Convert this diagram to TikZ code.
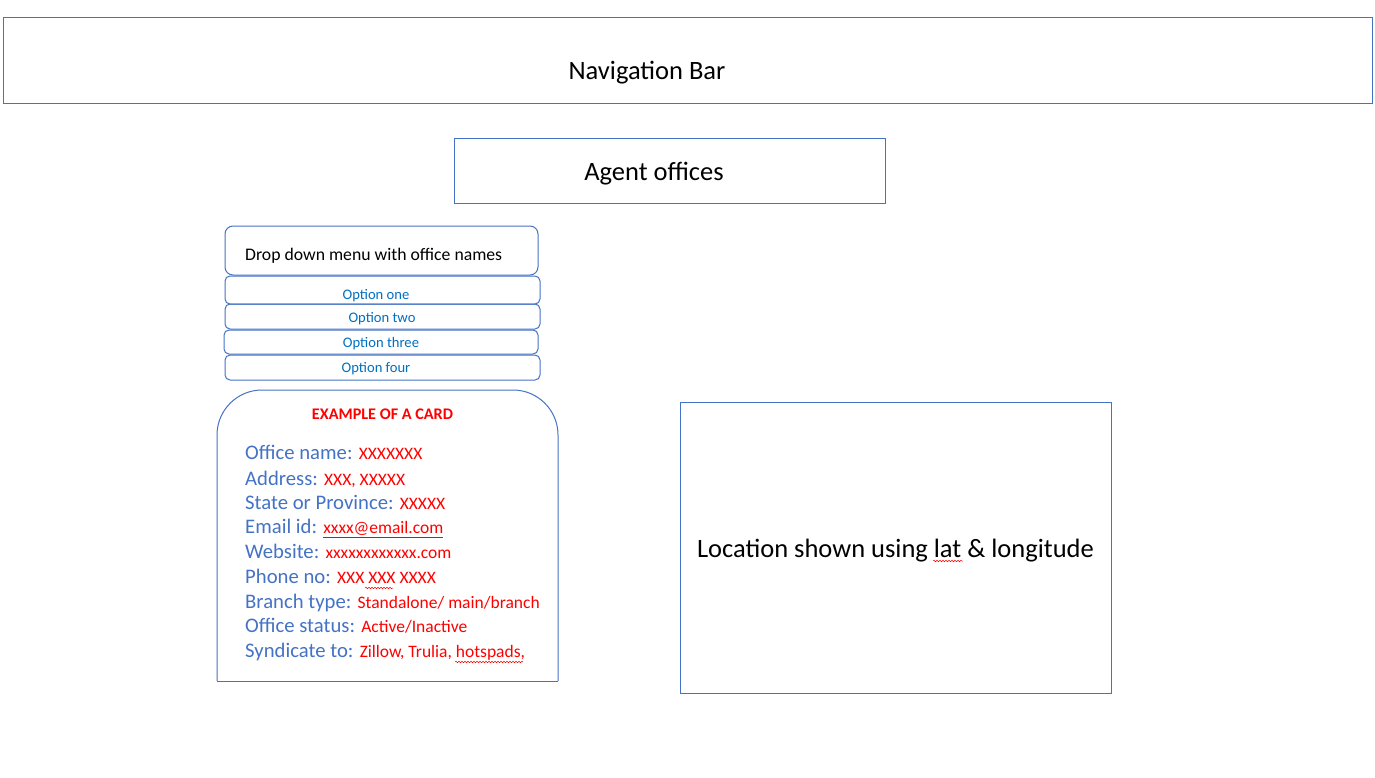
\documentclass[tikz,border=0pt]{standalone}
\usepackage{fontspec}
\setmainfont{Carlito}
\usetikzlibrary{decorations.pathmorphing}
\definecolor{bord}{HTML}{4472C4}
\definecolor{opt}{HTML}{0070C0}
\definecolor{lbl}{HTML}{4472C4}
\definecolor{val}{HTML}{FF0000}
\newcommand{\fs}[1]{\fontsize{#1}{#1}\selectfont}
\tikzset{
  box/.style={draw=bord, line width=1pt, inner sep=0pt},
  rbox/.style={draw=bord, line width=1pt, inner sep=0pt, rounded corners=8pt},
  optbox/.style={draw=bord, line width=1pt, inner sep=0pt, rounded corners=5pt},
  optt/.style={inner sep=0pt, text=opt, font=\fs{14.6}, anchor=base},
  big/.style={inner sep=0pt, font=\fs{26.5}, anchor=base},
  line/.style={anchor=base west, inner sep=0pt},
  wavy/.style={draw=val, line width=0.5pt, decorate, decoration={snake, amplitude=0.8pt, segment length=3pt}}
}
\newcommand{\lb}[1]{\fs{20.7}\color{lbl}#1}
\newcommand{\vl}[1]{\fs{17.5}\color{val}#1}
\begin{document}
\begin{tikzpicture}[x=1pt, y=-1pt]
\useasboundingbox (0,0) rectangle (1375,777);
% navigation bar
\node[box, minimum width=1369pt, minimum height=86pt] (nav) at (687.5,60) {};
\node[big] (navt) at (647,79) {Navigation Bar};
% agent offices
\node[box, minimum width=431pt, minimum height=65pt] (agent) at (669.5,170.5) {};
\node[big] (agentt) at (654,180) {Agent offices};
% dropdown
\node[rbox, minimum width=313pt, minimum height=49pt] (dd) at (381.5,250.5) {};
\node[line, font=\fs{17.7}] (ddt) at (245,260) {Drop down menu with office names};
% options
\node[optbox, minimum width=315pt, minimum height=28pt] (o1) at (382.5,290) {};
\node[optt] (o1t) at (376,299.7) {Option one};
\node[optbox, minimum width=315pt, minimum height=25pt] (o2) at (382.5,316.5) {};
\node[optt] (o2t) at (382,322.7) {Option two};
\node[optbox, minimum width=314pt, minimum height=24pt] (o3) at (381,342) {};
\node[optt] (o3t) at (381,347.7) {Option three};
\node[optbox, minimum width=315pt, minimum height=25pt] (o4) at (382.5,367.5) {};
\node[optt] (o4t) at (376,372.7) {Option four};
% card
\coordinate (cbl) at (217,681);
\coordinate (ctl) at (217,390);
\coordinate (ctr) at (558,390);
\coordinate (cbr) at (558,681);
\draw[bord, line width=1pt, rounded corners=45pt] (cbl) -- (ctl) -- (ctr) -- (cbr);
\draw[bord, line width=1pt] (cbl) -- (cbr);
\node[inner sep=0pt, anchor=base, text=val, font=\fs{16.2}\bfseries] (ctitle) at (382.5,419.3) {EXAMPLE OF A CARD};
\node[line] (l1) at (245,459.3) {\lb{Office name:} \vl{XXXXXXX}};
\node[line] (l2) at (245,485) {\lb{Address:} \vl{XXX, XXXXX}};
\node[line] (l3) at (245,509) {\lb{State or Province:} \vl{XXXXX}};
\node[line] (l4) at (245,533.7) {\lb{Email id:} \vl{\underline{xxxx@email.com}}};
\node[line] (l5) at (245,558.7) {\lb{Website:} \vl{xxxxxxxxxxxx.com}};
\node[line] (l6) at (245,583.3) {\lb{Phone no:} \vl{XXX XXX XXXX}};
\node[line] (l7) at (245,608.3) {\lb{Branch type:} \vl{Standalone/ main/branch}};
\node[line] (l8) at (245,632.7) {\lb{Office status:} \vl{Active/Inactive}};
\node[line] (l9) at (245,657.7) {\lb{Syndicate to:} \vl{Zillow, Trulia, hotspads,}};
\coordinate (w1a) at (365,588);
\coordinate (w1b) at (393,588);
\draw[wavy] (w1a) -- (w1b);
\coordinate (w3a) at (455,662);
\coordinate (w3b) at (523,662);
\draw[wavy] (w3a) -- (w3b);
% map box
\node[box, minimum width=431pt, minimum height=291pt] (map) at (895.5,547.5) {};
\node[big] (mapt) at (895.5,557.7) {Location shown using lat \& longitude};
\coordinate (w2a) at (933,561);
\coordinate (w2b) at (963,561);
\draw[wavy] (w2a) -- (w2b);
\end{tikzpicture}
\end{document}
